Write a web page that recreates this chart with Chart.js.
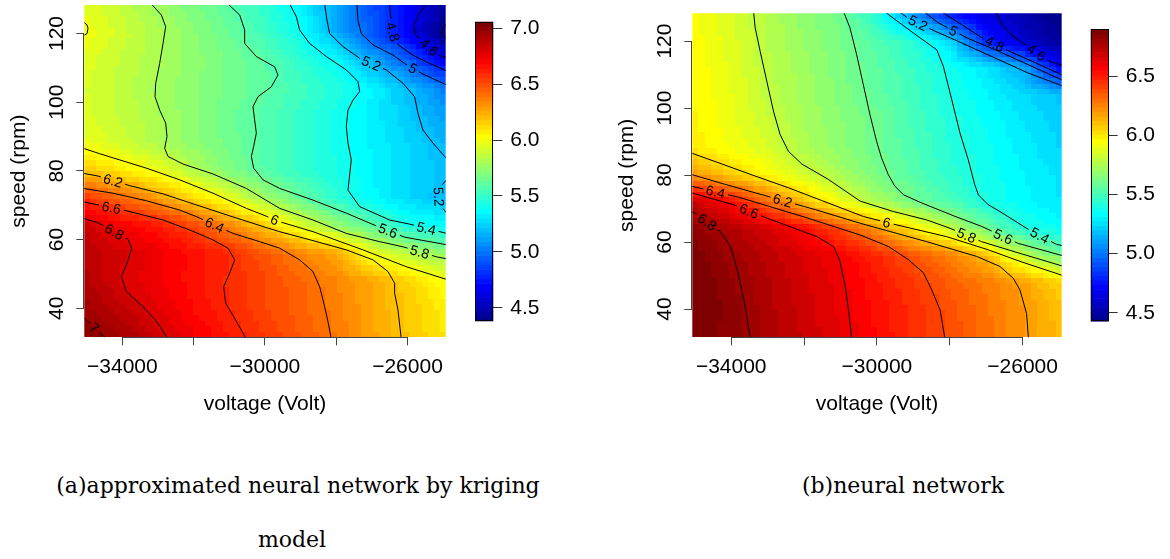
<!DOCTYPE html>
<html>
<head>
<meta charset="utf-8">
<script src="https://cdn.jsdelivr.net/npm/chart.js@4.4.1/dist/chart.umd.min.js"></script>
<style>
  html, body { margin: 0; padding: 0; background: #fff; }
  body { width: 1170px; height: 559px; position: relative; overflow: hidden; }
  canvas { position: absolute; top: 0; }
  .cap { position: absolute; font-family: "DejaVu Serif", serif; font-size: 22px; line-height: 22px;
         color: #000; white-space: nowrap; transform: translateX(-50%); }
</style>
</head>
<body>
<canvas id="plotA" width="470" height="450" style="left:0"></canvas>
<canvas id="barA" width="135" height="450" style="left:450px"></canvas>
<canvas id="plotB" width="490" height="450" style="left:585px"></canvas>
<canvas id="barB" width="105" height="450" style="left:1065px"></canvas>
<div class="cap" style="left:298px;top:475px">(a)approximated neural network by kriging</div>
<div class="cap" style="left:292px;top:529px">model</div>
<div class="cap" style="left:903px;top:475px">(b)neural network</div>

<script>
// grid of the response surface: columns follow `voltage`, rows follow `speed`
const voltage = [-35000, -34000, -33000, -32000, -31000, -30000, -29000, -28000, -27000, -26000, -25000];
const speed = [32, 40, 48, 56, 64, 72, 80, 88, 96, 104, 112, 120, 128];

const krigingGrid = [
  [7.02, 6.94, 6.82, 6.73, 6.64, 6.56, 6.47, 6.39, 6.28, 6.18, 6.10],
  [6.95, 6.86, 6.77, 6.68, 6.60, 6.52, 6.45, 6.37, 6.27, 6.17, 6.08],
  [6.90, 6.80, 6.73, 6.66, 6.59, 6.52, 6.44, 6.35, 6.26, 6.15, 6.02],
  [6.88, 6.82, 6.74, 6.67, 6.60, 6.48, 6.36, 6.26, 5.99, 5.85, 5.76],
  [6.84, 6.72, 6.65, 6.52, 6.35, 6.17, 5.96, 5.76, 5.62, 5.43, 5.38],
  [6.57, 6.44, 6.29, 6.13, 5.97, 5.79, 5.63, 5.48, 5.36, 5.27, 5.19],
  [6.18, 6.09, 5.99, 5.84, 5.70, 5.59, 5.50, 5.43, 5.35, 5.27, 5.21],
  [5.98, 5.91, 5.82, 5.74, 5.66, 5.58, 5.50, 5.42, 5.34, 5.26, 5.18],
  [5.94, 5.88, 5.81, 5.73, 5.65, 5.58, 5.50, 5.42, 5.33, 5.23, 5.12],
  [5.93, 5.87, 5.79, 5.73, 5.67, 5.61, 5.53, 5.45, 5.35, 5.20, 5.04],
  [5.95, 5.88, 5.81, 5.74, 5.67, 5.60, 5.49, 5.38, 5.16, 4.95, 4.66],
  [6.00, 5.91, 5.82, 5.73, 5.64, 5.53, 5.40, 5.16, 4.93, 4.67, 4.39],
  [5.96, 5.88, 5.78, 5.69, 5.60, 5.48, 5.34, 5.13, 4.91, 4.70, 4.45]
];

const networkGrid = [
  [6.89, 6.84, 6.77, 6.70, 6.63, 6.55, 6.47, 6.39, 6.30, 6.21, 6.12],
  [6.90, 6.85, 6.76, 6.69, 6.62, 6.54, 6.46, 6.38, 6.29, 6.21, 6.10],
  [6.90, 6.83, 6.75, 6.68, 6.61, 6.52, 6.44, 6.35, 6.27, 6.18, 6.06],
  [6.88, 6.81, 6.73, 6.66, 6.59, 6.48, 6.37, 6.26, 6.11, 5.82, 5.61],
  [6.85, 6.76, 6.67, 6.56, 6.40, 6.21, 6.00, 5.81, 5.60, 5.42, 5.35],
  [6.70, 6.55, 6.32, 6.11, 5.91, 5.75, 5.62, 5.51, 5.40, 5.33, 5.28],
  [6.19, 6.08, 5.96, 5.85, 5.74, 5.63, 5.54, 5.45, 5.38, 5.32, 5.27],
  [6.00, 5.93, 5.86, 5.76, 5.68, 5.60, 5.52, 5.43, 5.37, 5.30, 5.24],
  [5.98, 5.91, 5.83, 5.74, 5.67, 5.61, 5.50, 5.42, 5.35, 5.28, 5.22],
  [5.97, 5.90, 5.80, 5.73, 5.65, 5.57, 5.49, 5.40, 5.32, 5.25, 5.19],
  [5.96, 5.89, 5.79, 5.72, 5.64, 5.56, 5.47, 5.38, 5.28, 5.14, 4.72],
  [5.95, 5.88, 5.78, 5.70, 5.63, 5.53, 5.43, 5.25, 4.80, 4.59, 4.48],
  [5.94, 5.86, 5.77, 5.69, 5.61, 5.43, 5.08, 4.77, 4.64, 4.53, 4.43]
];

// colour scale limits and legend ticks
const krigingZlim = [4.384, 7.059];
const networkZlim = [4.43, 6.90];
const krigingBarTicks = [4.5, 5.0, 5.5, 6.0, 6.5, 7.0];
const networkBarTicks = [4.5, 5.0, 5.5, 6.0, 6.5];

// axes
const xRange = [-35068, -24928];
const yRange = [31.55, 128.3];
const xTicks = [-34000, -32000, -30000, -28000, -26000];
const xTickLabels = ['\u221234000', '', '\u221230000', '', '\u221226000'];
const yTicks = [40, 60, 80, 100, 120];
const yTickLabels = ['40', '60', '80', '100', '120'];

// contour lines: level, path of [voltage, speed], label anchor
const krigingLines = [
  { level: 5.8, label: [-25660, 56.3], path: [[-33187,128.6],[-32906,125.4],[-32785,122.0],[-32859,117.1],[-32953,111.3],[-33065,105.5],[-33084,101.6],[-32953,97.7],[-32785,93.9],[-32747,90.0],[-32813,86.6],[-32719,84.2],[-32298,82.0],[-31457,79.1],[-30522,74.9],[-29587,69.1],[-28652,65.7],[-27717,61.8],[-26782,59.4],[-26127,57.9],[-25193,55.0],[-24900,54.4]] },
  { level: 5.6, label: [-26548, 62.6], path: [[-31036,128.6],[-30709,125.4],[-30568,121.0],[-30568,117.1],[-30241,113.3],[-29727,110.3],[-29634,107.9],[-29820,104.5],[-30194,101.6],[-30335,98.7],[-30288,94.8],[-30241,91.0],[-30316,87.1],[-30381,84.2],[-30316,80.8],[-30054,77.4],[-29587,74.9],[-28652,71.5],[-27717,67.7],[-26969,64.4],[-26080,60.7],[-25005,58.7],[-24900,58.5]] },
  { level: 5.4, label: [-25473, 63.3], path: [[-29306,128.6],[-29119,124.9],[-29026,121.0],[-28745,117.1],[-28278,113.3],[-27717,109.4],[-27390,106.0],[-27343,103.1],[-27530,100.6],[-27670,97.7],[-27717,92.9],[-27670,88.1],[-27577,83.2],[-27670,74.4],[-27343,69.6],[-26501,65.7],[-25940,64.5],[-24900,61.8]] },
  { level: 5.2, label: [-27015, 111.3], path: [[-28325,128.6],[-28259,123.9],[-28184,120.0],[-27810,116.2],[-27343,112.8],[-26595,109.4],[-26127,105.5],[-25800,101.6],[-25707,96.8],[-25566,91.9],[-25286,88.1],[-24959,84.2],[-24900,83.6]] },
  { level: 5.2, label: [-25110, 72.5], path: [[-24900,77.4],[-25080,75.4],[-25118,72.5],[-25052,69.6],[-24900,67.7]] },
  { level: 5, label: [-25847, 109.9], path: [[-27418,128.6],[-27390,123.9],[-27296,120.0],[-26969,116.7],[-26408,113.7],[-26080,111.3],[-25566,108.2],[-24959,105.3],[-24900,105.0]] },
  { level: 4.8, label: [-26408, 120.5], path: [[-26501,128.6],[-26483,125.9],[-26408,120.5],[-26267,116.7],[-25847,113.7],[-25380,111.3],[-24959,109.4],[-24900,109.1]] },
  { level: 4.6, label: [-25426, 115.6], path: [[-25473,128.6],[-25660,125.9],[-25819,122.5],[-25772,119.6],[-25566,117.7],[-25146,113.7],[-24900,113.0]] },
  { level: 4.4, label: null, path: [[-24900,122.8],[-25005,121.5],[-25024,120.0],[-24900,118.3]] },
  { level: 6, label: null, path: [[-35100,123.4],[-34991,122.5],[-34963,121.5],[-34991,120.0],[-35100,119.3]] },
  { level: 6, label: [-29727, 65.7], path: [[-35100,86.6],[-34636,85.0],[-34075,83.2],[-33327,80.8],[-32392,77.4],[-31457,73.5],[-30522,69.1],[-30054,67.2],[-29587,65.2],[-28652,62.3],[-27250,57.0],[-26034,52.1],[-24900,48.4]] },
  { level: 6.2, label: [-34262, 77.2], path: [[-35100,79.3],[-34683,78.5],[-33794,75.7],[-32859,73.3],[-31924,70.1],[-30989,66.9],[-30054,63.8],[-29587,62.3],[-28652,59.7],[-27717,57.0],[-26969,54.1],[-26548,50.7],[-26361,47.3],[-26361,44.4],[-26267,39.5],[-26174,31.0]] },
  { level: 6.4, label: [-31410, 64.3], path: [[-35100,74.9],[-34262,73.5],[-33327,71.3],[-32392,68.6],[-31924,66.7],[-30896,61.8],[-30148,59.4],[-29587,57.5],[-29026,54.1],[-28652,50.7],[-28465,46.3],[-28325,40.5],[-28231,36.1],[-28138,31.0]] },
  { level: 6.6, label: [-34309, 69.2], path: [[-35100,71.0],[-33888,68.4],[-32859,65.7],[-32111,62.8],[-31457,59.9],[-31036,57.5],[-30849,54.1],[-30989,50.2],[-31158,46.3],[-31102,41.5],[-30849,37.1],[-30522,31.0]] },
  { level: 6.8, label: [-34215, 62.4], path: [[-35100,66.2],[-34683,64.9],[-33841,60.1],[-33738,57.5],[-33869,53.1],[-34028,49.2],[-33888,44.9],[-33327,39.5],[-33000,35.6],[-32719,31.0]] },
  { level: 7, label: [-34776, 34.4], path: [[-35100,37.4],[-34589,32.5],[-34450,31.0]] }
];

const networkLines = [
  { level: 5.8, label: [-27536, 62.0], path: [[-33388,129],[-33343,124.0],[-33206,117.0],[-33023,108.0],[-32840,99.1],[-32658,92.1],[-32430,87.1],[-32064,83.3],[-31334,78.7],[-30458,72.2],[-29545,69.1],[-28632,66.6],[-27992,64.1],[-27125,60.1],[-26039,56.5],[-24900,52.8]] },
  { level: 5.6, label: [-26532, 61.7], path: [[-30923,129],[-30741,124.0],[-30558,116.0],[-30376,107.1],[-30193,98.1],[-30010,90.1],[-29873,85.1],[-29691,80.2],[-29508,76.7],[-29271,74.1],[-28778,71.7],[-27865,67.7],[-27134,64.7],[-26121,59.6],[-24900,55.9]] },
  { level: 5.4, label: [-25527, 62.0], path: [[-29818,129],[-28997,122.4],[-28358,117.4],[-28175,112.4],[-27992,104.5],[-27719,92.5],[-27491,84.5],[-27317,77.2],[-27216,74.1],[-26952,71.2],[-26623,69.1],[-25893,64.1],[-25071,59.3],[-24900,58.9]] },
  { level: 5.2, label: [-28869, 125.4], path: [[-29417,129],[-29143,126.8],[-28412,123.0],[-27682,119.5],[-26770,115.0],[-25856,110.5],[-24900,106.6]] },
  { level: 5, label: [-27901, 123.0], path: [[-28732,129],[-28321,125.5],[-27500,120.8],[-26770,117.5],[-25856,113.0],[-24900,108.3]] },
  { level: 4.8, label: [-26760, 119.2], path: [[-28266,129],[-27682,125.0],[-27171,121.4],[-26349,116.9],[-25582,113.2],[-24900,109.8]] },
  { level: 4.6, label: [-25619, 116.6], path: [[-26760,129],[-26532,124.4],[-26267,121.5],[-25984,119.4],[-25253,113.9],[-24900,112.7]] },
  { level: 6, label: [-29727, 65.9], path: [[-35100,86.6],[-34256,83.3],[-33343,79.7],[-32430,76.2],[-31517,72.4],[-30366,67.6],[-29453,65.1],[-28084,61.6],[-26952,57.7],[-26039,54.1],[-24900,50.0]] },
  { level: 6.2, label: [-32585, 72.4], path: [[-35100,80.2],[-34256,77.5],[-33343,74.7],[-31699,69.7],[-30458,65.6],[-28632,60.1],[-27262,55.7],[-26623,52.7],[-26258,49.2],[-26075,45.7],[-25893,38.7],[-25838,30.9]] },
  { level: 6.4, label: [-34429, 75.0], path: [[-35100,76.7],[-33799,73.4],[-32886,70.4],[-31973,67.4],[-31060,64.2],[-30458,62.1],[-29691,58.7],[-29143,54.8],[-28723,50.8],[-28495,45.7],[-28266,39.7],[-28129,30.9]] },
  { level: 6.6, label: [-33507, 69.3], path: [[-35100,74.7],[-33927,71.1],[-33014,67.1],[-31644,61.6],[-31188,58.6],[-31015,54.3],[-30868,46.7],[-30777,39.3],[-30686,30.9]] },
  { level: 6.8, label: [-34657, 66.0], path: [[-35100,69.2],[-34968,68.4],[-34292,63.1],[-34018,58.6],[-33836,51.7],[-33653,42.7],[-33470,30.9]] }
];

const AXIS_FONT = '21px "Liberation Sans", Arial, sans-serif';
const LABEL_FONT = '14px "Liberation Sans", Arial, sans-serif';

// 64-step jet palette, dark blue to dark red
function jet(t) {
  const i = Math.max(0, Math.min(63, Math.floor(t * 64)));
  let r, g, b;
  if (i < 8) { r = 0; g = 0; b = 143 + i * 16; }
  else if (i < 24) { r = 0; g = Math.min(255, (i - 7) * 16); b = 255; }
  else if (i < 40) { r = Math.min(255, (i - 23) * 16); g = 255; b = Math.max(0, 255 - (i - 23) * 16); }
  else if (i < 56) { r = 255; g = Math.max(0, 255 - (i - 39) * 16); b = 0; }
  else { r = 255 - (i - 55) * 16; g = 0; b = 0; }
  return `rgb(${r},${g},${b})`;
}

function locate(arr, v) {
  if (v <= arr[0]) return [0, 0];
  if (v >= arr[arr.length - 1]) return [arr.length - 2, 1];
  let i = 0;
  while (arr[i + 1] < v) i++;
  return [i, (v - arr[i]) / (arr[i + 1] - arr[i])];
}

function surface(grid, v, s) {
  const [i, fx] = locate(voltage, v);
  const [j, fy] = locate(speed, s);
  const a = grid[j][i] * (1 - fx) + grid[j][i + 1] * fx;
  const b = grid[j + 1][i] * (1 - fx) + grid[j + 1][i + 1] * fx;
  return a * (1 - fy) + b * fy;
}

function drawContour(ctx, x, y, line) {
  const pts = line.path.map(([v, s]) => [x.getPixelForValue(v), y.getPixelForValue(s)]);
  const cum = [0];
  for (let k = 1; k < pts.length; k++) {
    cum.push(cum[k - 1] + Math.hypot(pts[k][0] - pts[k - 1][0], pts[k][1] - pts[k - 1][1]));
  }
  const total = cum[cum.length - 1];
  const at = (d) => {
    d = Math.max(0, Math.min(total, d));
    let k = 0;
    while (k < pts.length - 2 && cum[k + 1] < d) k++;
    const seg = cum[k + 1] - cum[k] || 1;
    const f = (d - cum[k]) / seg;
    return [pts[k][0] + (pts[k + 1][0] - pts[k][0]) * f, pts[k][1] + (pts[k + 1][1] - pts[k][1]) * f];
  };

  let gap = null, s0 = 0, text = '', w = 0;
  if (line.label) {
    const lp = [x.getPixelForValue(line.label[0]), y.getPixelForValue(line.label[1])];
    let best = Infinity;
    for (let k = 0; k < pts.length - 1; k++) {
      const dx = pts[k + 1][0] - pts[k][0], dy = pts[k + 1][1] - pts[k][1];
      const len2 = dx * dx + dy * dy || 1;
      let t = ((lp[0] - pts[k][0]) * dx + (lp[1] - pts[k][1]) * dy) / len2;
      t = Math.max(0, Math.min(1, t));
      const d = Math.hypot(pts[k][0] + dx * t - lp[0], pts[k][1] + dy * t - lp[1]);
      if (d < best) { best = d; s0 = cum[k] + t * Math.sqrt(len2); }
    }
    text = String(line.level);
    ctx.font = LABEL_FONT;
    w = ctx.measureText(text).width;
    gap = [s0 - w / 2 - 3, s0 + w / 2 + 3];
  }

  ctx.beginPath();
  ctx.moveTo(pts[0][0], pts[0][1]);
  if (!gap) {
    for (let k = 1; k < pts.length; k++) ctx.lineTo(pts[k][0], pts[k][1]);
  } else {
    let k = 1;
    for (; k < pts.length && cum[k] < gap[0]; k++) ctx.lineTo(pts[k][0], pts[k][1]);
    if (gap[0] > 0) { const p = at(gap[0]); ctx.lineTo(p[0], p[1]); }
    if (gap[1] < total) {
      const q = at(gap[1]);
      ctx.moveTo(q[0], q[1]);
      for (k = 1; k < pts.length; k++) if (cum[k] > gap[1]) ctx.lineTo(pts[k][0], pts[k][1]);
    }
  }
  ctx.stroke();

  if (gap) {
    const pa = at(s0 - w / 2), pb = at(s0 + w / 2), c = at(s0);
    let ang = Math.atan2(pb[1] - pa[1], pb[0] - pa[0]);
    if (ang > Math.PI / 2) ang -= Math.PI;
    if (ang < -Math.PI / 2) ang += Math.PI;
    ctx.save();
    ctx.translate(c[0], c[1]);
    ctx.rotate(ang);
    ctx.fillStyle = '#000';
    ctx.textAlign = 'center';
    ctx.textBaseline = 'middle';
    ctx.fillText(text, 0, 1);
    ctx.restore();
  }
}

// filled surface plus contour lines, drawn through the chart's scales
function surfacePlugin(grid, zlim, lines) {
  return {
    id: 'surface',
    beforeDatasetsDraw(chart) {
      const { ctx, chartArea: a, scales: { x, y } } = chart;
      ctx.save();
      ctx.beginPath();
      ctx.rect(a.left, a.top, a.right - a.left, a.bottom - a.top);
      ctx.clip();
      const nx = 60, ny = 60;
      for (let i = 0; i < nx; i++) {
        const va = x.min + (x.max - x.min) * i / nx, vb = x.min + (x.max - x.min) * (i + 1) / nx;
        const pa = Math.round(x.getPixelForValue(va)), pb = Math.round(x.getPixelForValue(vb));
        for (let j = 0; j < ny; j++) {
          const sa = y.min + (y.max - y.min) * j / ny, sb = y.min + (y.max - y.min) * (j + 1) / ny;
          const qa = Math.round(y.getPixelForValue(sa)), qb = Math.round(y.getPixelForValue(sb));
          const z = surface(grid, (va + vb) / 2, (sa + sb) / 2);
          ctx.fillStyle = jet((z - zlim[0]) / (zlim[1] - zlim[0]));
          ctx.fillRect(pa, qb, pb - pa, qa - qb);
        }
      }
      ctx.strokeStyle = '#000';
      ctx.lineWidth = 1;
      lines.forEach(l => drawContour(ctx, x, y, l));
      ctx.restore();
    }
  };
}

// base-R style axis lines, tick labels and titles
const axisText = {
  id: 'axisText',
  afterDraw(chart) {
    const { ctx, chartArea: a, scales: { x, y } } = chart;
    ctx.save();
    ctx.strokeStyle = '#444';
    ctx.lineWidth = 1;
    ctx.beginPath();
    const lx = Math.round(a.left) - 0.5, by = Math.round(a.bottom) + 0.5;
    ctx.moveTo(lx, y.getPixelForValue(yTicks[0]));
    ctx.lineTo(lx, y.getPixelForValue(yTicks[yTicks.length - 1]));
    ctx.moveTo(x.getPixelForValue(xTicks[0]), by);
    ctx.lineTo(x.getPixelForValue(xTicks[xTicks.length - 1]), by);
    ctx.stroke();

    ctx.fillStyle = '#000';
    ctx.font = AXIS_FONT;
    ctx.textAlign = 'center';
    ctx.textBaseline = 'alphabetic';
    xTicks.forEach((v, i) => {
      if (xTickLabels[i]) ctx.fillText(xTickLabels[i], x.getPixelForValue(v), a.bottom + 36);
    });
    ctx.fillText('voltage (Volt)', (a.left + a.right) / 2, a.bottom + 73);
    yTicks.forEach((v, i) => {
      ctx.save();
      ctx.translate(a.left - 21, y.getPixelForValue(v));
      ctx.rotate(-Math.PI / 2);
      ctx.fillText(yTickLabels[i], 0, 0);
      ctx.restore();
    });
    ctx.save();
    ctx.translate(a.left - 59, (a.top + a.bottom) / 2);
    ctx.rotate(-Math.PI / 2);
    ctx.fillText('speed (rpm)', 0, 0);
    ctx.restore();
    ctx.restore();
  }
};

function makePlot(id, grid, zlim, lines, padding) {
  return new Chart(document.getElementById(id), {
    type: 'scatter',
    data: { datasets: [] },
    options: {
      responsive: false,
      animation: false,
      events: [],
      layout: { padding },
      plugins: { legend: { display: false }, tooltip: { enabled: false } },
      scales: {
        x: {
          type: 'linear', min: xRange[0], max: xRange[1],
          afterBuildTicks: s => { s.ticks = xTicks.map(v => ({ value: v })); },
          afterFit: s => { s.height = 10; },
          ticks: { display: false },
          grid: { drawOnChartArea: false, drawTicks: true, tickLength: 8, color: '#444', lineWidth: 1 },
          border: { display: false }
        },
        y: {
          type: 'linear', min: yRange[0], max: yRange[1],
          afterBuildTicks: s => { s.ticks = yTicks.map(v => ({ value: v })); },
          afterFit: s => { s.width = 10; },
          ticks: { display: false },
          grid: { drawOnChartArea: false, drawTicks: true, tickLength: 8, color: '#444', lineWidth: 1 },
          border: { display: false }
        }
      }
    },
    plugins: [surfacePlugin(grid, zlim, lines), axisText]
  });
}

function colorStrip(zlim) {
  return {
    id: 'colorStrip',
    afterDraw(chart) {
      const { ctx, chartArea: a, scales: { y } } = chart;
      ctx.save();
      for (let i = 0; i < 64; i++) {
        const p0 = y.getPixelForValue(zlim[0] + (zlim[1] - zlim[0]) * i / 64);
        const p1 = y.getPixelForValue(zlim[0] + (zlim[1] - zlim[0]) * (i + 1) / 64);
        ctx.fillStyle = jet((i + 0.5) / 64);
        ctx.fillRect(a.left, p1, a.right - a.left, p0 - p1 + 0.6);
      }
      ctx.strokeStyle = '#000';
      ctx.lineWidth = 1;
      ctx.strokeRect(Math.round(a.left) + 0.5, Math.round(a.top) + 0.5,
                     Math.round(a.right - a.left) - 1, Math.round(a.bottom - a.top) - 1);
      ctx.restore();
    }
  };
}

function makeBar(id, zlim, ticks, padding) {
  return new Chart(document.getElementById(id), {
    type: 'scatter',
    data: { datasets: [] },
    options: {
      responsive: false,
      animation: false,
      events: [],
      layout: { padding },
      plugins: { legend: { display: false }, tooltip: { enabled: false } },
      scales: {
        x: { display: false, min: 0, max: 1 },
        y: {
          type: 'linear', position: 'right', min: zlim[0], max: zlim[1],
          afterBuildTicks: s => { s.ticks = ticks.map(v => ({ value: v })); },
          afterFit: s => { s.width = 50; },
          ticks: {
            color: '#000', padding: 8,
            font: { family: '"Liberation Sans", Arial, sans-serif', size: 21 },
            callback: v => Number(v).toFixed(1)
          },
          grid: { drawOnChartArea: false, drawTicks: true, tickLength: 9, color: '#333', lineWidth: 1 },
          border: { display: false }
        }
      }
    },
    plugins: [colorStrip(zlim)]
  });
}

makePlot('plotA', krigingGrid, krigingZlim, krigingLines, { left: 74.3, right: 24.3, top: 5, bottom: 102.7 });
makePlot('plotB', networkGrid, networkZlim, networkLines, { left: 97.3, right: 13.3, top: 13.3, bottom: 102.7 });
makeBar('barA', krigingZlim, krigingBarTicks, { left: 25, right: 41.7, top: 21.7, bottom: 129.3 });
makeBar('barB', networkZlim, networkBarTicks, { left: 25.7, right: 11.3, top: 29.3, bottom: 129 });
</script>
</body>
</html>
